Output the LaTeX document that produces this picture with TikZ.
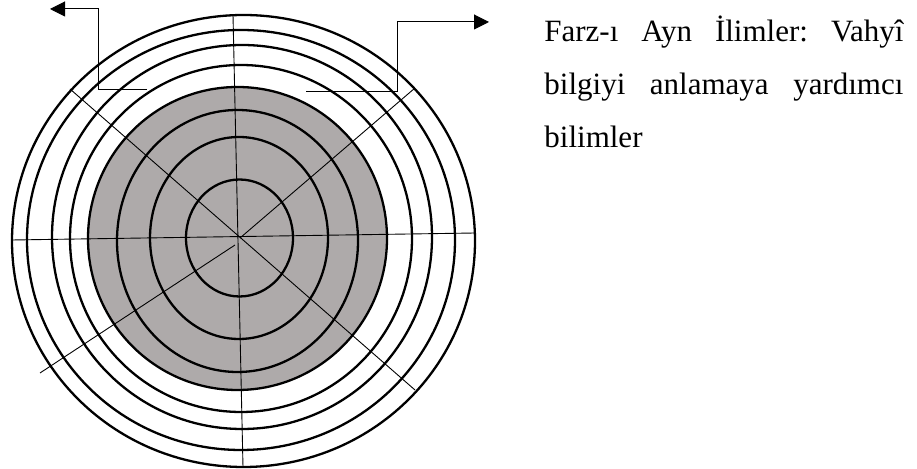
\documentclass[tikz,border=0pt]{standalone}
\usepackage{fontspec}
\setmainfont{Liberation Serif}
\usetikzlibrary{arrows.meta}
\definecolor{grisanillo}{HTML}{AEAAAA}
\tikzset{
  anillo/.style={draw=black,line width=1.15pt},
  radio/.style={draw=black,line width=0.45pt},
  flecha/.style={-{Triangle[length=7.5pt,width=7.5pt]},line width=0.5pt},
  texto/.style={anchor=base west,inner sep=0pt,font=\fontsize{15.5}{30}\selectfont\frenchspacing},
}

\begin{document}
\begin{tikzpicture}[x=0.5pt,y=-0.5pt]
  \useasboundingbox (0,0) rectangle (917,469);
  \coordinate (c) at (240,238);
  % nucleo gris
  \fill[grisanillo] (237.5,238.5) ellipse [x radius=74.75pt,y radius=75.75pt];
  % anillos
  \foreach \cx/\cy/\rx/\ry in {239.5/238/53.5/58.5,239/238/89/101,237.5/241/120.5/131,
      237.5/238.5/149.5/151.5,241/238.5/171/173.5,242/237/190/192,241/240/214/210,243.5/241/231.5/226}
    \draw[anillo] (\cx,\cy) ellipse [x radius=\rx*0.5pt,y radius=\ry*0.5pt];
  % radios
  \draw[radio] (233,15) -- (243,467);
  \draw[radio] (12,240) -- (475,233);
  \draw[radio] (70,89) -- (415,390);
  \draw[radio] (415,88) -- (c);
  \draw[radio] (235,245) -- (40,373);
  % flechas
  \coordinate (izq) at (147,90);
  \coordinate (der) at (306,92);
  \draw[flecha] (izq) -- (98,90) -- (98,9) -- (50,9);
  \draw[flecha] (der) -- (397,92) -- (397,22) -- (489,22);
  % texto
  \node[texto] (l1) at (544,42) {\makebox[179.5pt][s]{Farz-ı Ayn İlimler: Vahyî}};
  \node[texto] (l2) at (544,95) {\makebox[179.5pt][s]{bilgiyi anlamaya yardımcı}};
  \node[texto] (l3) at (544,148) {bilimler};
\end{tikzpicture}
\end{document}
